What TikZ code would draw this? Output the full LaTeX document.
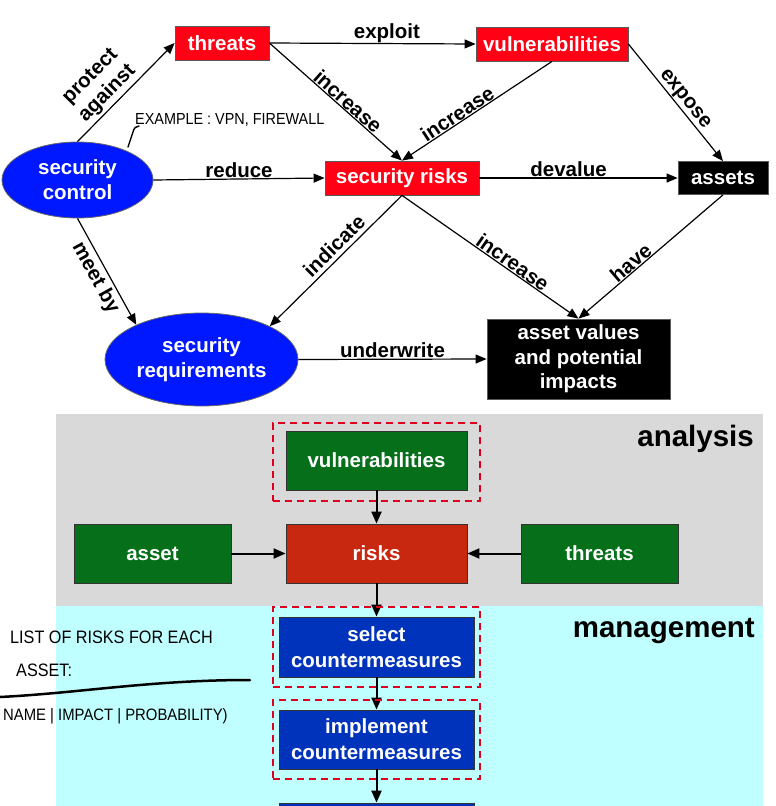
\documentclass[tikz,border=0pt]{standalone}
\usepackage{fontspec}
\setmainfont{Liberation Sans}
\newfontfamily\handfont[FakeStretch=0.9]{Liberation Sans}
\usetikzlibrary{arrows.meta,shapes.geometric}
\definecolor{topred}{RGB}{255,0,20}
\definecolor{elblue}{RGB}{0,24,255}
\definecolor{boxgreen}{RGB}{5,112,25}
\definecolor{riskred}{RGB}{200,40,16}
\definecolor{cmblue}{RGB}{0,51,187}
\definecolor{graybg}{RGB}{217,217,217}
\definecolor{cyanbg}{RGB}{192,255,255}
\definecolor{dashred}{RGB}{220,0,30}
\begin{document}
\begin{tikzpicture}[x=1pt,y=-1pt,
  lab/.style={font=\fontsize{20.5}{24}\selectfont\bfseries, inner sep=0.5pt},
  box/.style={rectangle, draw=black!65, line width=0.8pt, inner sep=0pt, align=center, text=white,
              font=\fontsize{20.5}{24.5}\selectfont\bfseries},
  redbox/.style={box, fill=topred},
  blackbox/.style={box, fill=black},
  ell/.style={ellipse, fill=elblue, draw=black!60, line width=0.8pt, inner sep=0pt, align=center, text=white,
              font=\fontsize{20.5}{25}\selectfont\bfseries},
  greenbox/.style={box, fill=boxgreen, draw=black!80},
  riskbox/.style={box, fill=riskred, draw=black!80},
  cmbox/.style={box, fill=cmblue, draw=black!80, font=\fontsize{20.5}{26}\selectfont\bfseries},
  dashbox/.style={rectangle, draw=dashred, line width=2pt, dash pattern=on 7pt off 5pt, inner sep=0pt},
  conn/.style={-{Triangle[length=11pt,width=9pt]}, line width=1.2pt},
  conn2/.style={-{Triangle[length=12pt,width=10pt]}, line width=2pt},
  big/.style={font=\fontsize{29.5}{32}\selectfont\bfseries, inner sep=0pt},
  hand/.style={inner sep=0pt}
]
\useasboundingbox (0,0) rectangle (776,806);
\clip (0,0) rectangle (776,806);

% ---------- top concept map ----------
\node[redbox, minimum width=94pt, minimum height=34pt] (th) at (222,43) {threats};
\node[redbox, minimum width=152pt, minimum height=34pt] (vul) at (552,44) {vulnerabilities};
\node[redbox, minimum width=154pt, minimum height=34pt] (sr) at (402,178) {security risks};
\node[blackbox, minimum width=90pt, minimum height=33pt] (assets) at (723,178) {assets};
\node[blackbox, minimum width=183pt, minimum height=80pt] (av) at (578.5,359) {asset values\\and potential\\impacts};
\node[ell, minimum width=151pt, minimum height=76pt] (sc) at (77.5,180) {security\\control};
\node[ell, minimum width=193pt, minimum height=93pt] (sreq) at (201.5,359.5) {security\\requirements};

\draw[conn] (sc.north) -- node[lab, sloped, above, align=center, pos=0.4, inner sep=2.5pt] (l1) {protect\\against} (th.west);
\draw[conn] (th.east) -- node[lab, above, pos=0.57] (l2) {exploit} (vul.west);
\draw[conn] (th.east) -- node[lab, sloped, above, pos=0.55] (l3) {increase} (sr.north);
\draw[conn] (vul.south) -- node[lab, sloped, above, pos=0.6] (l4) {increase} (sr.north);
\draw[conn] (vul.east) -- node[lab, sloped, above, pos=0.52] (l5) {expose} (assets.north);
\draw[conn] (sc.east) -- node[lab, above] (l6) {reduce} (sr.west);
\draw[conn] (sr.east) -- node[lab, above, pos=0.45] (l7) {devalue} (assets.west);
\draw[conn] (sc.south) -- node[lab, sloped, below, pos=0.5, inner sep=3pt] (l8) {meet by} (sreq.152);
\draw[conn] (sr.south) -- node[lab, sloped, above, pos=0.45, inner sep=4pt] (l9) {indicate} (sreq.26);
\draw[conn] (sr.south) -- node[lab, sloped, above, pos=0.6] (l10) {increase} (av.north);
\draw[conn] (assets.south) -- node[lab, sloped, above, pos=0.6] (l11) {have} (av.north);
\draw[conn] (sreq.east) -- node[lab, above] (l12) {underwrite} (av.west);

% handwritten note (top)
\node[hand, anchor=west, font=\handfont\fontsize{16}{18}\selectfont] (h1) at (135,120) {EXAMPLE : VPN, FIREWALL};
\draw[line width=1.4pt, line cap=round] (128,147) -- (133,132) .. controls (134,128) and (136,126) .. (139,126);

% ---------- bottom process ----------
\fill[graybg] (56,414) rectangle (763,606);
\fill[cyanbg] (56,606) rectangle (763,806);
\node[big, anchor=east] (an) at (754,439) {analysis};
\node[big, anchor=east] (mg) at (755,631) {management};

\node[greenbox, minimum width=181pt, minimum height=59pt] (vul2) at (376.5,460.5) {vulnerabilities};
\node[greenbox, minimum width=157pt, minimum height=59pt] (asset2) at (152.5,553.5) {asset};
\node[riskbox, minimum width=181pt, minimum height=59pt] (risks) at (376.5,553.5) {risks};
\node[greenbox, minimum width=157pt, minimum height=59pt] (threats2) at (599.5,553.5) {threats};
\node[cmbox, minimum width=195pt, minimum height=60pt] (sel) at (376.5,647) {select\\countermeasures};
\node[cmbox, minimum width=195pt, minimum height=59pt] (impl) at (376.5,739.5) {implement\\countermeasures};
\node[cmbox, minimum width=195pt, minimum height=60pt] (last) at (376.5,833) {};

\draw[conn2] (vul2.south) -- (risks.north);
\draw[conn2] (asset2.east) -- (risks.west);
\draw[conn2] (threats2.west) -- (risks.east);
\draw[conn2] (risks.south) -- (sel.north);
\draw[conn2] (sel.south) -- (impl.north);
\draw[conn2] (impl.south) -- (last.north);

\node[dashbox, minimum width=207pt, minimum height=78pt] (d1) at (376.5,462) {};
\node[dashbox, minimum width=207pt, minimum height=80pt] (d2) at (376.5,647) {};
\node[dashbox, minimum width=207pt, minimum height=79pt] (d3) at (376.5,739.5) {};

% handwritten note (bottom left)
\node[hand, anchor=west, font=\handfont\fontsize{18}{20}\selectfont] (h2) at (10,637) {LIST OF RISKS FOR EACH};
\node[hand, anchor=west, font=\handfont\fontsize{18}{20}\selectfont] (h3) at (16,670) {ASSET:};
\draw[line width=2.5pt, line cap=round] (0,697) .. controls (80,693) and (150,680) .. (250,680);
\node[hand, anchor=west, font=\handfont\fontsize{16.5}{18}\selectfont] (h4) at (3,716) {NAME | IMPACT | PROBABILITY)};
\end{tikzpicture}
\end{document}
